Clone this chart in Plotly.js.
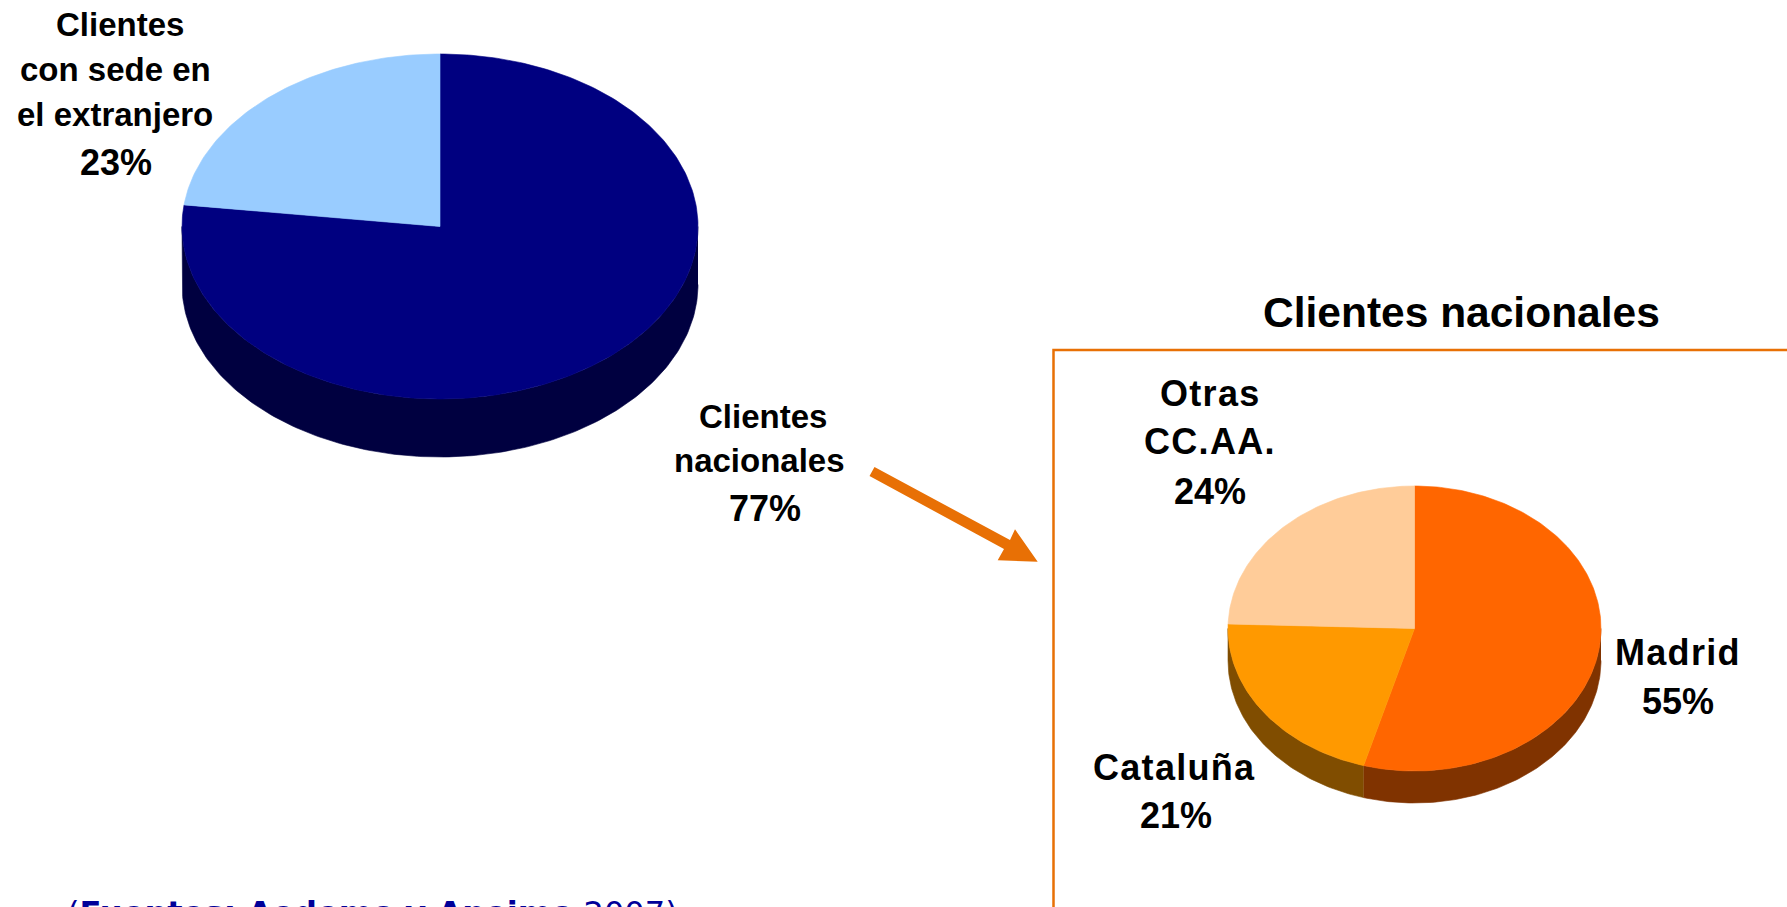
<!DOCTYPE html>
<html>
<head>
<meta charset="utf-8">
<script src="https://cdn.plot.ly/plotly-3.0.1.min.js"></script>
<style>html,body{margin:0;padding:0;background:#fff;overflow:hidden}#chart{width:1787px;height:907px}</style>
</head>
<body>
<div id="chart"></div>
<script>
// ---- data ----
const totalCategories = ["Clientes nacionales", "Clientes con sede en el extranjero"];
const totalValues = [77, 23];
const totalLabels = ["77%", "23%"];
const totalColors = ["#000080", "#99CCFF"];
const totalSideColors = ["#000040", "#4D6680"];

const nationalCategories = ["Madrid", "Cataluña", "Otras CC.AA."];
const nationalValues = [54.4, 21.1, 24.5];  // slice sizes
const nationalLabels = ["55%", "21%", "24%"];
const nationalColors = ["#FF6600", "#FF9900", "#FFCC99"];
const nationalSideColors = ["#803300", "#804D00", "#80664D"];

const chartTitle = "Clientes nacionales";
const sourceText = "(<b>Fuentes: Aedemo y Aneimo</b> 2007)";

// ---- geometry (page pixels, axes run 1:1 with the page) ----
const W = 1787, H = 907;
const bigPie = {cx: 440, cy: 226.5, rx: 258, ry: 172.5, depth: 58};
const smallPie = {cx: 1414.5, cy: 628.5, rx: 186.5, ry: 142.5, depth: 32};
const ORANGE = "#E87005";

function arc(p, a0, a1, dy) {
  const xs = [], ys = [];
  const n = Math.max(2, Math.ceil((a1 - a0) / (Math.PI / 180)));
  for (let i = 0; i <= n; i++) {
    const a = a0 + (a1 - a0) * i / n;
    xs.push(p.cx + p.rx * Math.sin(a));
    ys.push(p.cy + dy - p.ry * Math.cos(a));
  }
  return [xs, ys];
}
function poly(xs, ys, color, name) {
  return {type: "scatter", mode: "lines", x: xs, y: ys, fill: "toself", fillcolor: color,
    line: {width: 0.6, color: color}, hoverinfo: "name", name: name, showlegend: false};
}
function pieTraces(p, cats, vals, labels, colors, sides) {
  const total = vals.reduce((a, b) => a + b, 0);
  const side = [], top = [];
  let acc = 0;
  cats.forEach((c, i) => {
    const a0 = acc / total * 2 * Math.PI;
    acc += vals[i];
    const a1 = acc / total * 2 * Math.PI;
    // visible wall: lower half of the ellipse only
    const s0 = Math.max(a0, Math.PI / 2), s1 = Math.min(a1, 3 * Math.PI / 2);
    if (s1 > s0) {
      const [ux, uy] = arc(p, s0, s1, 0);
      const [lx, ly] = arc(p, s0, s1, p.depth);
      side.push(poly(ux.concat(lx.slice().reverse()), uy.concat(ly.slice().reverse()), sides[i], c));
    }
    const [tx, ty] = arc(p, a0, a1, 0);
    top.push(poly([p.cx].concat(tx, [p.cx]), [p.cy].concat(ty, [p.cy]), colors[i], c + " " + labels[i]));
  });
  return side.concat(top);
}

const traces = pieTraces(bigPie, totalCategories, totalValues, totalLabels, totalColors, totalSideColors)
  .concat(pieTraces(smallPie, nationalCategories, nationalValues, nationalLabels, nationalColors, nationalSideColors));

// labels: one annotation per line to hold the reference's line pitch
function line(t, x, y, size, spacing) {
  const body = spacing ? "<span style='letter-spacing:" + spacing + "px'>" + t + "</span>" : t;
  return {xref: "x", yref: "y", x: x, y: y, text: "<b>" + body + "</b>",
    showarrow: false, xanchor: "center", yanchor: "middle",
    font: {family: "Liberation Sans, Arial, sans-serif", size: size, color: "#000"}};
}
const annotations = [
  line("Clientes", 120, 24, 33), line("con sede en", 115, 69, 33),
  line("el extranjero", 115, 114, 33), line(totalLabels[1], 116, 162, 36),
  line("Clientes", 763, 416, 33), line("nacionales", 759, 460, 33), line(totalLabels[0], 765, 508, 36),
  line("Otras", 1210, 393, 36, 1.3), line("CC.AA.", 1210, 441, 36, 1.3), line(nationalLabels[2], 1210, 491, 36),
  line("Madrid", 1678, 652, 36, 1.3), line(nationalLabels[0], 1678, 701, 36),
  line("Cataluña", 1174, 767, 36, 1.3), line(nationalLabels[1], 1176, 815, 36),
  line(chartTitle, 1461, 312, 42.5),
  {xref: "x", yref: "y", x: 65, y: 892, yanchor: "top", xanchor: "left", showarrow: false,
    text: sourceText, font: {family: "DejaVu Sans", size: 32.1, color: "#000099"}}
];

const shapes = [
  {type: "path", xref: "x", yref: "y", line: {color: ORANGE, width: 2.5}, fillcolor: "rgba(0,0,0,0)",
   path: "M 1795 350 L 1053.5 350 L 1053.5 915"},
  {type: "path", xref: "x", yref: "y", line: {width: 0}, fillcolor: ORANGE,
   path: "M 869.5 476 L 874.5 467 L 1010 540 L 1015 529.3 L 1037.7 561.7 L 997.7 560.3 L 1004 549 Z"}
];

const hidden = {visible: false, fixedrange: true};
Plotly.newPlot("chart", traces, {
  width: W, height: H, margin: {l: 0, r: 0, t: 0, b: 0, pad: 0},
  paper_bgcolor: "#fff", plot_bgcolor: "#fff", showlegend: false,
  xaxis: Object.assign({range: [0, W]}, hidden),
  yaxis: Object.assign({range: [H, 0]}, hidden),
  annotations: annotations, shapes: shapes
}, {displayModeBar: false, staticPlot: true});
</script>
</body>
</html>
